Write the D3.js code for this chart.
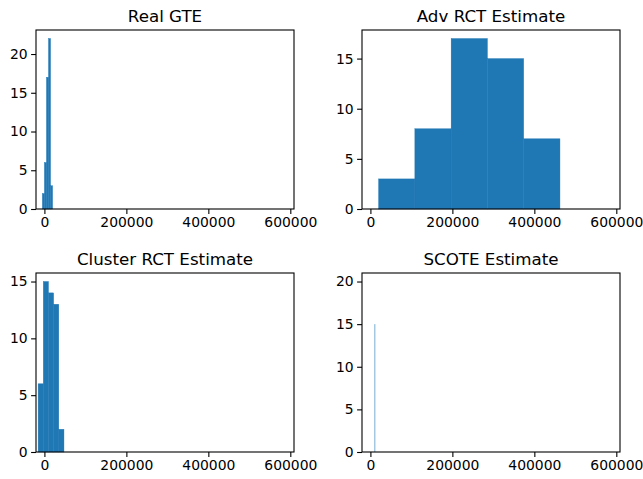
<!DOCTYPE html>
<html>
<head>
<meta charset="utf-8">
<script src="https://cdn.jsdelivr.net/npm/d3@7"></script>
<style>
  body { margin: 0; background: #fff; }
  text { font-family: "DejaVu Sans", sans-serif; fill: #000; }
</style>
</head>
<body>
<div class="chart"></div>
<script>
// panel titles
var titles = ["Real GTE", "Adv RCT Estimate", "Cluster RCT Estimate", "SCOTE Estimate"];

// histogram bin edges and counts
var realEdges = [-5000, 0, 5000, 10000, 15000, 20000];
var realCounts = [2, 6, 17, 22, 3];

var advEdges = [20000, 108500, 197000, 285500, 374000, 462500];
var advCounts = [3, 8, 17, 15, 7];

var clusterEdges = [-15300, -2700, 9900, 22500, 35100, 47700];
var clusterCounts = [6, 15, 14, 13, 2];

// the SCOTE bins are so narrow only one thin bar shows
var scoteEdges = [9600, 9800];
var scoteCounts = [15];

// y upper value used for the axis limit (ylim = value * 1.05)
var yLimits = [22, 17, 15, 20];

var xTicks = [0, 200000, 400000, 600000];
var yTickSets = [[0, 5, 10, 15, 20], [0, 5, 10, 15], [0, 5, 10, 15], [0, 5, 10, 15, 20]];
var xDomain = [-20500, 609000];

var svgWidth = 643;
var svgHeight = 479;

var panels = [
  {edges: realEdges, counts: realCounts, x: 36, y: 30},
  {edges: advEdges, counts: advCounts, x: 362, y: 30},
  {edges: clusterEdges, counts: clusterCounts, x: 36, y: 273},
  {edges: scoteEdges, counts: scoteCounts, x: 362, y: 273}
];
var pw = 258, ph = 179;

var svg = d3.select(".chart")
  .append("svg")
  .attr("width", svgWidth)
  .attr("height", svgHeight);

panels.forEach(function(p, i) {
  var g = svg.append("g")
    .attr("transform", `translate(${p.x}, ${p.y})`);

  var x = d3.scaleLinear().domain(xDomain).range([0, pw]);
  var y = d3.scaleLinear().domain([0, yLimits[i] * 1.05]).range([ph, 0]);

  var bins = p.counts.map(function(c, k) {
    return {x0: p.edges[k], x1: p.edges[k + 1], n: c};
  });

  // bars (thin same-colour stroke hides the seams between neighbours)
  g.selectAll("rect.bar")
    .data(bins)
    .enter()
    .append("rect")
    .attr("class", "bar")
    .attr("x", d => x(d.x0))
    .attr("y", d => y(d.n))
    .attr("width", d => Math.max(1, x(d.x1) - x(d.x0)))
    .attr("height", d => ph - y(d.n))
    .attr("fill", "#1f77b4")
    .attr("stroke", d => (x(d.x1) - x(d.x0)) < 1 ? "none" : "#1f77b4")
    .attr("stroke-width", 0.4)
    .attr("fill-opacity", d => (x(d.x1) - x(d.x0)) < 1 ? 0.6 : 1);

  // axes
  var bottomAxis = d3.axisBottom(x).tickValues(xTicks).tickSize(4.9).tickPadding(3.5).tickFormat(d3.format("d"));
  var leftAxis = d3.axisLeft(y).tickValues(yTickSets[i]).tickSize(4.9).tickPadding(3.5).tickFormat(d3.format("d"));

  var xg = g.append("g")
    .attr("transform", `translate(0, ${ph})`)
    .call(bottomAxis);
  var yg = g.append("g").call(leftAxis);

  [xg, yg].forEach(function(a) {
    a.select(".domain").remove();
    a.selectAll(".tick line").attr("stroke", "#000").attr("stroke-width", 1.1);
    a.selectAll(".tick text").attr("font-size", "13.9px").attr("font-family", "DejaVu Sans, sans-serif").attr("fill", "#000");
  });

  // frame
  g.append("rect")
    .attr("x", 0).attr("y", 0)
    .attr("width", pw).attr("height", ph)
    .attr("fill", "none")
    .attr("stroke", "#000")
    .attr("stroke-width", 1.1);

  // title
  g.append("text")
    .attr("x", pw / 2)
    .attr("y", -8.3)
    .attr("text-anchor", "middle")
    .attr("font-size", "16.7px")
    .text(titles[i]);
});
</script>
</body>
</html>
